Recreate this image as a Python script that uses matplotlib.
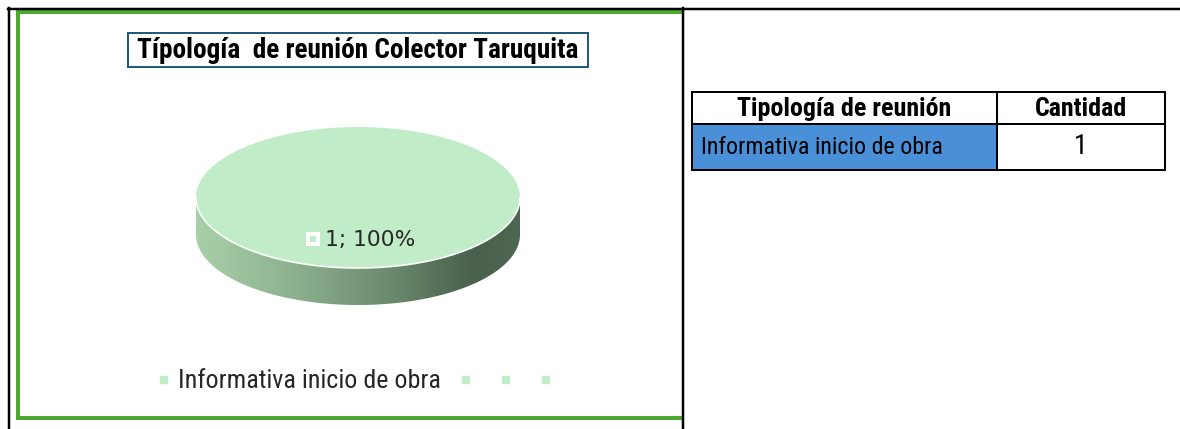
import numpy as np
import matplotlib
matplotlib.use("Agg")
import matplotlib.pyplot as plt
from matplotlib.patches import Rectangle, Polygon
from matplotlib.lines import Line2D
from matplotlib.colors import LinearSegmentedColormap
from matplotlib import font_manager

# ---------------- data ----------------
chart_title = "Típología  de reunión Colector Taruquita"
categories = ["Informativa inicio de obra", "", "", ""]
values = [1, 0, 0, 0]

table_header = ["Tipología de reunión", "Cantidad"]
table_labels = ["Informativa inicio de obra"]
table_counts = [1]

# ---------------- style ----------------
W, H = 1180, 429
DPI = 100
avail = {f.name for f in font_manager.fontManager.ttflist}
NARROW = None
for cand in ["Liberation Sans Narrow", "Arial Narrow", "Roboto Condensed", "PT Sans Narrow",
             "Archivo Narrow", "Liberation Sans"]:
    if cand in avail:
        NARROW = [cand, "DejaVu Sans"]
        break
if NARROW is None:
    NARROW = ["DejaVu Sans"]
face = "#c0ecc8"
green = "#4ea72e"
px = 0.72  # points per pixel at 100 dpi

fig = plt.figure(figsize=(W / DPI, H / DPI), dpi=DPI)
fig.patch.set_facecolor("white")
renderer = fig.canvas.get_renderer()


def fit_width(txt, target_px):
    bb = txt.get_window_extent(renderer)
    if bb.width > 0:
        txt.set_fontsize(txt.get_fontsize() * target_px / bb.width)


# background axes in pixel coordinates
bg = fig.add_axes([0, 0, 1, 1])
bg.set_xlim(0, W)
bg.set_ylim(H, 0)
bg.axis("off")

# green chart frame
bg.plot([18, 18], [11.5, 417.5], color=green, lw=4 * px, solid_capstyle="projecting")
bg.plot([18, 682], [11.5, 11.5], color=green, lw=4 * px, solid_capstyle="projecting")
bg.plot([18, 682], [417.5, 417.5], color=green, lw=4 * px, solid_capstyle="projecting")
# black page borders
bg.plot([8, W], [9, 9], color="black", lw=2.5 * px)
bg.plot([9, 9], [8, H], color="black", lw=2.5 * px)
bg.plot([682.5, 682.5], [8, H], color="black", lw=2.5 * px)

# title box
bg.add_patch(Rectangle((128, 33), 460, 34, facecolor="white", edgecolor="#1f5c7a", lw=2 * px))
ttl = bg.text(358, 50.5, chart_title, ha="center", va="center", fontsize=18, fontweight="bold",
              family=NARROW, color="black")
fit_width(ttl, 441)

# ---------------- table ----------------
tx0, tx1, tx2 = 692, 997, 1165
ty0, ty1, ty2 = 92, 124, 170
bg.add_patch(Rectangle((tx0, ty1), tx1 - tx0, ty2 - ty1, facecolor="#4a90d9", edgecolor="none"))
tlw = 2 * px
for y in (ty0, ty1, ty2):
    bg.plot([tx0, tx2], [y, y], color="black", lw=tlw, solid_capstyle="projecting")
for x in (tx0, tx1, tx2):
    bg.plot([x, x], [ty0, ty2], color="black", lw=tlw, solid_capstyle="projecting")
h1 = bg.text((tx0 + tx1) / 2, (ty0 + ty1) / 2 + 1, table_header[0], ha="center", va="center",
             fontsize=18, fontweight="bold", family=NARROW)
fit_width(h1, 214)
h2 = bg.text((tx1 + tx2) / 2, (ty0 + ty1) / 2 + 1, table_header[1], ha="center", va="center",
             fontsize=h1.get_fontsize(), fontweight="bold", family=NARROW)
for lab, cnt in zip(table_labels, table_counts):
    d1 = bg.text(tx0 + 9, (ty1 + ty2) / 2, lab, ha="left", va="center", fontsize=18, family=NARROW)
    fit_width(d1, 242)
    bg.text((tx1 + tx2) / 2, (ty1 + ty2) / 2, str(cnt), ha="center", va="center",
            fontsize=d1.get_fontsize() * 1.15, family=NARROW)

# ---------------- 3D-looking pie ----------------
cx, cy, rx, ry, depth = 358, 197.5, 162, 70.5, 37
d = depth / ry
left = (cx - rx) / W
width = 2 * rx / W
top_px = cy - ry
bot_px = cy + ry + depth
pax = fig.add_axes([left, 1 - bot_px / H, width, (bot_px - top_px) / H])
nonzero = [v for v in values if v > 0]
wedges, _ = pax.pie(nonzero, colors=[face], startangle=90, counterclock=False,
                    wedgeprops=dict(linewidth=0), radius=1.0)
for w in wedges:
    w.set_zorder(3)
pax.set_aspect("auto")
pax.axis("off")

t = np.linspace(np.pi, 2 * np.pi, 300)
side = np.concatenate([np.column_stack([np.cos(t), np.sin(t)]),
                       np.column_stack([np.cos(t[::-1]), np.sin(t[::-1]) - d])])
side_patch = Polygon(side, closed=True, facecolor="none", edgecolor="none")
pax.add_patch(side_patch)
cmap = LinearSegmentedColormap.from_list(
    "side", [(0.0, "#a8d0a8"), (0.3, "#8db18f"), (0.6, "#6a8a6e"), (0.86, "#48604c"), (1.0, "#4e6753")])
grad = np.linspace(0, 1, 256).reshape(1, -1)
im = pax.imshow(grad, cmap=cmap, extent=(-1, 1, -1 - d, 0), aspect="auto", zorder=2,
                interpolation="bilinear")
im.set_clip_path(side_patch)
pax.set_xlim(-1, 1)
pax.set_ylim(-1 - d, 1)
# white rim along the front edge of the top face
pax.plot(np.cos(t), np.sin(t), color="white", lw=1.2, zorder=4)

# data label
total = sum(values)
lbl = f"{nonzero[0]}; {nonzero[0] / total * 100:.0f}%"
pax.plot([(313 - cx) / rx], [(cy - 239) / ry], marker="s", ms=10 * px, mew=4 * px,
         mfc=face, mec="white", zorder=5, clip_on=False)
lt = pax.text((325 - cx) / rx, (cy - 239.5) / ry, lbl, ha="left", va="center", fontsize=15,
              family=["DejaVu Sans"], color="#262626", zorder=5)
fit_width(lt, 90)

# ---------------- legend ----------------
probe = fig.text(0, 0, categories[0], fontsize=16, family=NARROW)
fit_width(probe, 262)
leg_fs = probe.get_fontsize()
probe.remove()
fs_px = leg_fs / px
handles = [Line2D([], [], marker="s", ls="", color=face, ms=7 * px) for _ in categories]
leg = fig.legend(handles, categories, loc="center", bbox_to_anchor=(360 / W, 1 - 381 / H),
                 ncol=4, frameon=False, handlelength=7 / fs_px, handletextpad=12 / fs_px,
                 columnspacing=21 / fs_px, borderpad=0, borderaxespad=0,
                 prop=dict(family=NARROW, size=leg_fs))
for txt in leg.get_texts():
    txt.set_color("#262626")

fig.savefig("out.png", dpi=DPI, facecolor="white")
